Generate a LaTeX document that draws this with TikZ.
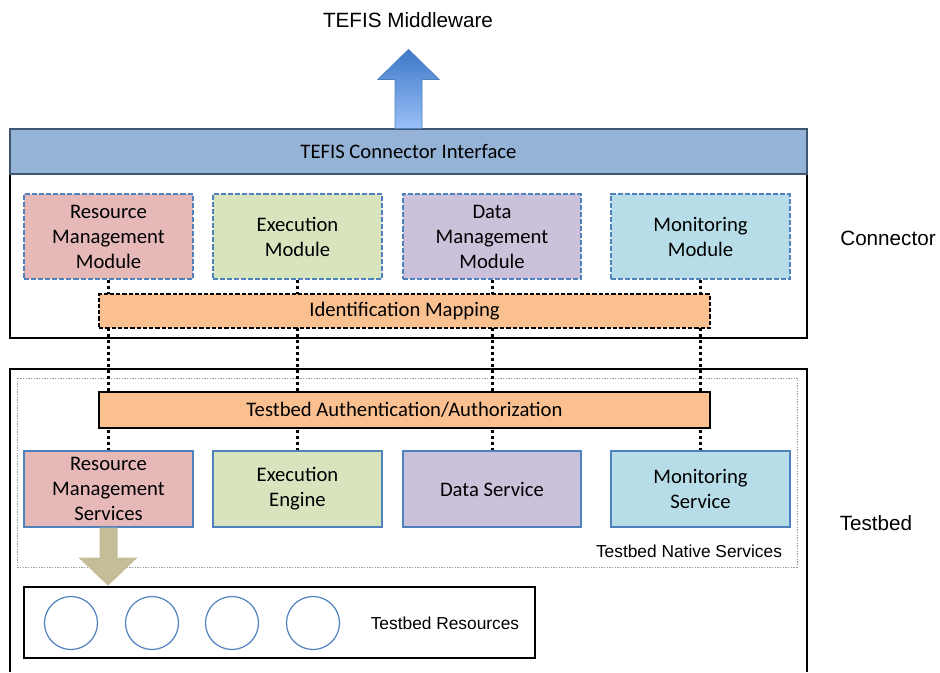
\documentclass[tikz,border=0pt]{standalone}
\usepackage{fontspec}
\setmainfont{Carlito}
\newfontfamily\arialfont{Liberation Sans}
\usepackage{tikz}
\usetikzlibrary{arrows.meta}
\usetikzlibrary{calc}
\usetikzlibrary{shapes}

\definecolor{rmpink}{HTML}{E6B9B8}
\definecolor{exgreen}{HTML}{D7E4BD}
\definecolor{dtpurple}{HTML}{CCC1DA}
\definecolor{mncyan}{HTML}{B7DEE8}
\definecolor{barorange}{HTML}{FAC090}
\definecolor{ifaceblue}{HTML}{95B3D7}
\definecolor{ifaceedge}{HTML}{3F5673}
\definecolor{modblue}{HTML}{4F81BD}
\definecolor{olive}{HTML}{C4BD97}
\definecolor{arrowtop}{HTML}{3D78C8}
\definecolor{arrowbot}{HTML}{9AC0F7}

\begin{document}
\begin{tikzpicture}[x=0.75pt, y=-0.75pt, font=\fontsize{15.5}{18.75}\selectfont,
        module_style/.style={draw=modblue, line width=1.5pt, dash pattern=on 3.8pt off 1.5pt, align=center, minimum height=63.75pt, inner sep=0pt},
        service_style/.style={draw=modblue, line width=0.9pt, align=center, minimum height=57pt, inner sep=0pt},
        mapping_style/.style={draw=black, fill=barorange, line width=0.9pt, dash pattern=on 3.2pt off 1.5pt, minimum width=458.25pt, minimum height=25.5pt, inner sep=0pt},
        auth_style/.style={draw=black, fill=barorange, line width=1.1pt, minimum width=458.25pt, minimum height=27pt, inner sep=0pt},
        link_style/.style={draw=black, line width=2.25pt, dash pattern=on 2.25pt off 2.25pt},
        resource_style/.style={circle, draw=modblue, line width=0.9pt, minimum size=39.75pt, inner sep=0pt},
        label_style/.style={font=\arialfont\fontsize{15.5}{18}\selectfont},
        small_label_style/.style={font=\arialfont\fontsize{13}{16}\selectfont}]

        \useasboundingbox (0,0) rectangle (940,672);

        % outer frames
        \draw [line width=1.1pt] (10,129) rectangle (807,338);

        \draw [line width=1.1pt] (10,672) -- (10,369) -- (807,369) -- (807,672);

        \draw [black!40, line width=0.6pt, dash pattern=on 1pt off 1pt] (17,378) rectangle (797,567);

        % connector modules
        \node [module_style, fill=rmpink, minimum width=126.75pt](m1) at (108.5,236.5) {Resource\\Management\\Module};

        \node [module_style, fill=exgreen, minimum width=126.75pt](m2) at (297.5,236.5) {Execution\\Module};

        \node [module_style, fill=dtpurple, minimum width=133.5pt](m3) at (492,236.5) {Data\\Management\\Module};

        \node [module_style, fill=mncyan, minimum width=134.25pt](m4) at (700.5,236.5) {Monitoring\\Module};

        % native services
        \node [service_style, fill=rmpink, minimum width=126.75pt](s1) at (108.5,489) {Resource\\Management\\Services};

        \node [service_style, fill=exgreen, minimum width=126.75pt](s2) at (297.5,489) {Execution\\Engine};

        \node [service_style, fill=dtpurple, minimum width=133.5pt](s3) at (492,489) {Data Service};

        \node [service_style, fill=mncyan, minimum width=134.25pt](s4) at (700.5,489) {Monitoring\\Service};

        \draw [link_style] (m1) edge (s1);

        \draw [link_style] (m2) edge (s2);

        \draw [link_style] (m3) edge (s3);

        \draw [link_style] (m4) edge (s4);

        % bars on top of the links
        \node [mapping_style](idmap) at (404.5,311) {Identification Mapping};

        \node [auth_style](auth) at (404.5,410) {Testbed Authentication/Authorization};

        \node [draw=ifaceedge, fill=ifaceblue, line width=0.9pt, minimum width=597.75pt, minimum height=33.75pt](iface) at (408.5,151.5) {TEFIS Connector Interface};

        \draw [draw=modblue, line width=0.6pt, top color=arrowtop, bottom color=arrowbot] (iface.north) ++(-13.5,0) -- ++(0,-49) -- ++(-17,0) -- ++(30.5,-30) -- ++(30.5,30) -- ++(-17,0) -- ++(0,49) -- cycle;

        % resources
        \node [draw, line width=1.1pt, minimum width=383.25pt, minimum height=53.25pt](res) at (279.5,622.5) {};

        \draw [fill=olive, draw=none] (s1.south) ++(-9,0) -- ++(0,30) -- ++(-21,0) -- ++(29.5,28) -- ++(29.5,-28) -- ++(-20,0) -- ++(0,-30) -- cycle;

        \node [resource_style](r1) at (71,623) {};

        \node [resource_style](r2) at (152,623) {};

        \node [resource_style](r3) at (232,623) {};

        \node [resource_style](r4) at (313,623) {};

        % labels
        \node [label_style](mw) at (408,20) {TEFIS Middleware};

        \node [label_style](conn) at (888,238) {Connector};

        \node [label_style](tb) at (876,523) {Testbed};

        \node [small_label_style](native) at (689,551) {Testbed Native Services};

        \node [small_label_style](reslabel) at (445,623) {Testbed Resources};

        \end{tikzpicture}
\end{document}
